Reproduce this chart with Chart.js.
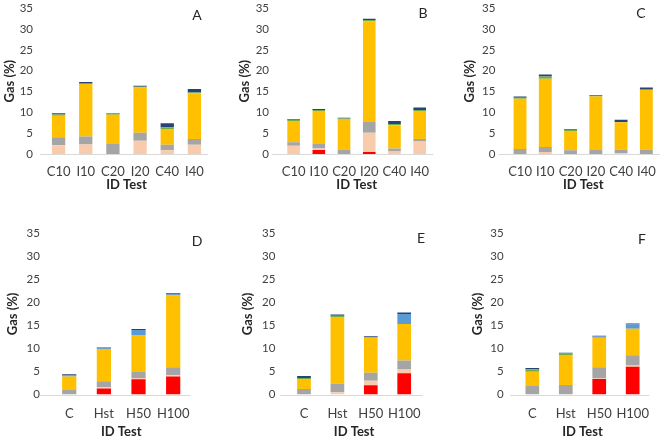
<!DOCTYPE html>
<html><head><meta charset="utf-8">
<script src="https://cdn.jsdelivr.net/npm/chart.js@4/dist/chart.umd.min.js"></script>
<style>
html,body{margin:0;padding:0;background:#fff;width:661px;height:438px;overflow:hidden;position:relative;}
canvas{position:absolute;}
.lbl{position:absolute;font:14px Lato, sans-serif;color:#262626;transform:translate(-50%,-50%);line-height:1;}
</style></head><body>
<canvas id="cA"></canvas><canvas id="cB"></canvas><canvas id="cC"></canvas>
<canvas id="cD"></canvas><canvas id="cE"></canvas><canvas id="cF"></canvas>
<div class="lbl" style="left:197px;top:15px">A</div>
<div class="lbl" style="left:423px;top:13px">B</div>
<div class="lbl" style="left:641px;top:13px">C</div>
<div class="lbl" style="left:197px;top:241px">D</div>
<div class="lbl" style="left:421px;top:238px">E</div>
<div class="lbl" style="left:642px;top:239px">F</div>
<script>
// ---- data ----
const catsTop = ['C10','I10','C20','I20','C40','I40'];
const catsBottom = ['C','Hst','H50','H100'];
const seriesNames = ['S1','S2','S3','S4','S5','S6','S7'];
const yMin = 0, yMax = 35, yStep = 5;

// Panel A
const redA    = [0, 0, 0, 0, 0, 0];
const peachA  = [2.1, 2.3, 0, 3.2, 0.9, 2.25];
const grayA   = [1.9, 1.9, 2.4, 1.9, 1.3, 1.35];
const yellowA = [5.2, 12.6, 7.0, 10.9, 3.8, 11.0];
const greenA  = [0.3, 0.25, 0.3, 0.15, 0.4, 0.2];
const lblueA  = [0, 0, 0, 0, 0, 0];
const dblueA  = [0.3, 0.25, 0.15, 0.25, 1.0, 0.8];
// Panel B
const redB    = [0, 0.95, 0, 0.5, 0, 0];
const peachB  = [2.0, 0.4, 0, 4.6, 0.6, 3.0];
const grayB   = [0.8, 1.05, 1.1, 2.6, 0.7, 0.6];
const yellowB = [5.1, 7.9, 7.3, 24.2, 5.6, 6.7];
const greenB  = [0.3, 0.25, 0.15, 0.3, 0.3, 0.25];
const lblueB  = [0, 0, 0, 0, 0, 0];
const dblueB  = [0.2, 0.25, 0.15, 0.3, 0.7, 0.65];
// Panel C
const redC    = [0, 0, 0, 0, 0, 0];
const peachC  = [0, 0.5, 0, 0, 0.2, 0];
const grayC   = [1.2, 1.2, 0.9, 0.95, 0.9, 1.1];
const yellowC = [12.1, 16.4, 4.6, 12.85, 6.5, 14.3];
const greenC  = [0.2, 0.5, 0.3, 0.2, 0.1, 0.2];
const lblueC  = [0, 0, 0, 0, 0, 0];
const dblueC  = [0.3, 0.5, 0.2, 0.2, 0.5, 0.4];
// Panel D
const redD    = [0, 1.3, 3.3, 3.9];
const peachD  = [0, 0.25, 0.3, 0.3];
const grayD   = [1.0, 1.35, 1.3, 1.7];
const yellowD = [2.9, 7.0, 8.0, 15.6];
const greenD  = [0, 0, 0, 0];
const lblueD  = [0.2, 0.1, 1.1, 0.2];
const dblueD  = [0.3, 0.2, 0.2, 0.3];
// Panel E
const redE    = [0, 0, 2.0, 4.6];
const peachE  = [0, 0.5, 1.0, 0.85];
const grayE   = [1.2, 1.9, 1.7, 1.95];
const yellowE = [2.15, 14.45, 7.6, 7.9];
const greenE  = [0.25, 0.25, 0, 0];
const lblueE  = [0, 0, 0.15, 2.2];
const dblueE  = [0.4, 0.25, 0.2, 0.3];
// Panel F
const redF    = [0, 0, 3.35, 6.0];
const peachF  = [0, 0, 0.15, 0.3];
const grayF   = [1.85, 2.05, 2.4, 2.2];
const yellowF = [3.1, 6.55, 6.4, 5.8];
const greenF  = [0.55, 0.3, 0, 0];
const lblueF  = [0, 0, 0.3, 0.9];
const dblueF  = [0.25, 0.15, 0.15, 0.2];

// ---- styles / layout ----
const colors = ['#FF0000','#F8CBAD','#A5A5A5','#FFC000','#70AD47','#5B9BD5','#264478'];
const FONT = 'Lato, "Open Sans", sans-serif';

const panels = [
  {id:'cA', cats:catsTop, series:[redA,peachA,grayA,yellowA,greenA,lblueA,dblueA],
   box:{x:0,y:0,w:215,h:200}, area:{l:45,r:208,t:8.3,b:154}, bar:0.49, ext:[5,0], tickPad:10, titlePadB:7},
  {id:'cB', cats:catsTop, series:[redB,peachB,grayB,yellowB,greenB,lblueB,dblueB],
   box:{x:235,y:0,w:205,h:200}, area:{l:281,r:432.3,t:8.3,b:154}, bar:0.5, ext:[9,1], tickPad:10, titlePadB:7},
  {id:'cC', cats:catsTop, series:[redC,peachC,grayC,yellowC,greenC,lblueC,dblueC],
   box:{x:460,y:0,w:201,h:200}, area:{l:507.4,r:659,t:8.3,b:154}, bar:0.51, ext:[9,1], tickPad:10, titlePadB:7},
  {id:'cD', cats:catsBottom, series:[redD,peachD,grayD,yellowD,greenD,lblueD,dblueD],
   box:{x:3,y:205,w:212,h:235}, area:{l:51.9,r:190.5,t:233.3,b:394.5}, bar:0.41, ext:[12,0], tickPad:12, titlePadB:0},
  {id:'cE', cats:catsBottom, series:[redE,peachE,grayE,yellowE,greenE,lblueE,dblueE],
   box:{x:238,y:205,w:192,h:235}, area:{l:287.3,r:420.9,t:233.3,b:394.5}, bar:0.41, ext:[7,2], tickPad:12, titlePadB:0},
  {id:'cF', cats:catsBottom, series:[redF,peachF,grayF,yellowF,greenF,lblueF,dblueF],
   box:{x:468,y:205,w:193,h:235}, area:{l:515.6,r:649.4,t:233.3,b:394.5}, bar:0.41, ext:[5.6,0], tickPad:12, titlePadB:0}
];

const baseLine = {
  id:'baseLine',
  beforeDatasetsDraw(chart, args, opts){
    const {ctx, chartArea:a} = chart;
    ctx.save();
    ctx.strokeStyle = '#D9D9D9';
    ctx.lineWidth = 1;
    ctx.beginPath();
    ctx.moveTo(a.left - opts.ext[0], Math.round(a.bottom)+0.5);
    ctx.lineTo(a.right + opts.ext[1], Math.round(a.bottom)+0.5);
    ctx.stroke();
    ctx.restore();
  }
};

panels.forEach(p => {
  const cv = document.getElementById(p.id);
  cv.width = p.box.w; cv.height = p.box.h;
  cv.style.left = p.box.x + 'px'; cv.style.top = p.box.y + 'px';
  cv.style.width = p.box.w + 'px'; cv.style.height = p.box.h + 'px';
  const yw = p.area.l - p.box.x;
  const xh = p.box.y + p.box.h - p.area.b;
  new Chart(cv, {
    type:'bar',
    data:{
      labels:p.cats,
      datasets:p.series.map((d,i)=>({label:seriesNames[i], data:d, backgroundColor:colors[i], borderWidth:0,
        barPercentage:p.bar, categoryPercentage:1}))
    },
    options:{
      responsive:false, devicePixelRatio:1, animation:false,
      layout:{padding:{left:0, top:p.area.t - p.box.y, right:p.box.x + p.box.w - p.area.r, bottom:0}},
      plugins:{legend:{display:false}, tooltip:{enabled:false}, baseLine:{ext:p.ext}},
      scales:{
        x:{stacked:true, grid:{display:false, drawTicks:false}, border:{display:false},
           ticks:{padding:p.tickPad, color:'#404040', font:{family:FONT, size:13}, maxRotation:0, minRotation:0, autoSkip:false},
           title:{display:true, text:'ID Test', color:'#262626', font:{family:FONT, size:13, weight:'bold'}, padding:{top:0,bottom:p.titlePadB}},
           afterFit(s){ s.height = xh; s.paddingLeft = 0; s.paddingRight = 0; }},
        y:{stacked:true, min:yMin, max:yMax, grid:{display:false, drawTicks:false}, border:{display:false},
           ticks:{stepSize:yStep, padding:12, color:'#404040', font:{family:FONT, size:11.5}},
           title:{display:true, text:'Gas (%)', color:'#262626', font:{family:FONT, size:13, weight:'bold'}, padding:{top:2,bottom:0}},
           afterFit(s){ s.width = yw; s.paddingTop = 0; s.paddingBottom = 0; }}
      }
    },
    plugins:[baseLine]
  });
});
</script>
</body></html>
